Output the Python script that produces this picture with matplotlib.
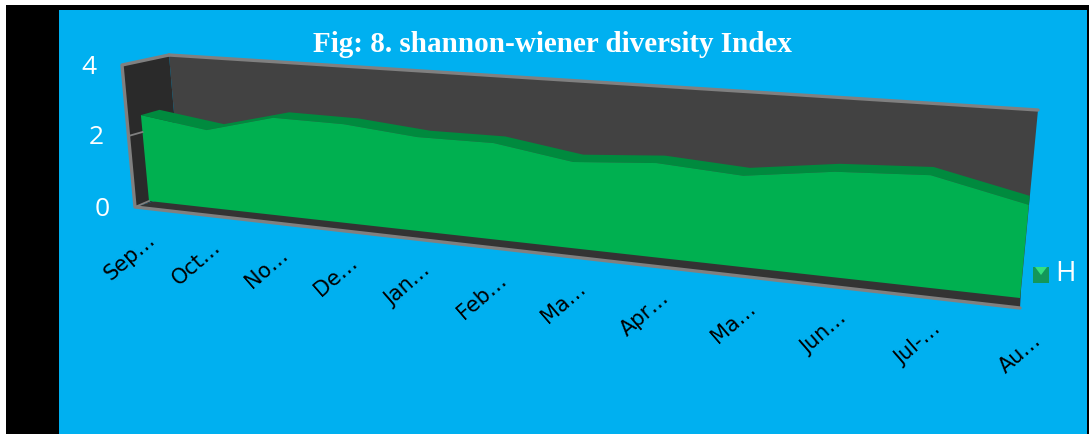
# -*- coding: utf-8 -*-
# 3D style area chart, H index by month, drawn on hand made perspective planes
from matplotlib import pyplot as plt
from matplotlib.transforms import Transform
from matplotlib.patches import Rectangle
import numpy as np

months = ['Sep…', 'Oct…', 'No…', 'De…', 'Jan…', 'Feb…', 'Ma…', 'Apr…', 'Ma…', 'Jun…', 'Jul-…', 'Au…']
H = [2.49, 2.20, 2.68, 2.64, 2.44, 2.43, 2.11, 2.24, 2.10, 2.35, 2.43, 1.96]
y_ticks = [0, 2, 4]
series_name = 'H'
title = 'Fig: 8. shannon-wiener diversity Index'

V_MAX = 4
PERSPECTIVE = 1.27


class Plane(Transform):
    # maps (month index, value) to picture pixels, corners are the plane at
    # value 0 and value V_MAX on the first and last month
    input_dims = 2
    output_dims = 2

    def __init__(self, left0, left1, right0, right1):
        super().__init__()
        self.c = np.array([left0, left1, right0, right1], dtype=float)

    def transform_non_affine(self, xy):
        xy = np.asarray(xy, dtype=float)
        t = xy[:, 0] / (len(months) - 1)
        t = t / (t + PERSPECTIVE * (1 - t))
        v = xy[:, 1] / V_MAX
        left = self.c[0] + np.outer(v, self.c[1] - self.c[0])
        right = self.c[2] + np.outer(v, self.c[3] - self.c[2])
        return left + (right - left) * t[:, None]


box_front = Plane((135, 207), (122, 65), (1020, 308), (1040, 120))
box_back = Plane((181, 193), (169, 55), (1021, 290), (1038, 110))
green_front = Plane((149, 201), (136, 63), (1020, 298), (1038, 108))
green_back = Plane((167, 192), (155, 60), (1021, 287), (1039, 101))

fig = plt.figure(figsize=(10.89, 4.34), dpi=100, facecolor='white')
ax = fig.add_axes([0, 0, 1, 1])
ax.set_axis_off()

ax.add_patch(Rectangle((6, 5), 1083, 429, color='black', lw=0))
ax.add_patch(Rectangle((59, 10), 1028, 424, color='#00b0f0', lw=0))

x = np.arange(len(months))
last = len(months) - 1


def pts(plane, i, v):
    return plane.transform(np.column_stack([i, v]))


ends = np.array([0, last])
bottom = np.zeros(2)
top = np.full(2, V_MAX)

# back wall, side wall, floor
wall = np.vstack([pts(box_back, ends, top), pts(box_back, ends[::-1], bottom)])
ax.fill(wall[:, 0], wall[:, 1], color='#424242', lw=0)
side = np.vstack([pts(box_front, [0, 0], [0, V_MAX]), pts(box_back, [0, 0], [V_MAX, 0])])
ax.fill(side[:, 0], side[:, 1], color='#2a2a2a', lw=0)
floor = np.vstack([pts(box_front, ends, bottom), pts(box_back, ends[::-1], bottom)])
ax.fill(floor[:, 0], floor[:, 1], color='#333333', lw=0)

# frame lines
edge = dict(color='#808080', lw=2.4, solid_capstyle='round')
line = pts(box_back, ends, top)
ax.plot(line[:, 0], line[:, 1], **edge)
line = np.vstack([pts(box_back, [0], [V_MAX]), pts(box_front, [0, 0], [V_MAX, 0]), pts(box_front, [last], [0])])
ax.plot(line[:, 0], line[:, 1], **edge)
for tick in y_ticks[:2]:
    line = np.vstack([pts(box_front, [0], [tick]), pts(green_front, [0], [tick])])
    ax.plot(line[:, 0], line[:, 1], color='#808080', lw=1.3)

# area, top band first then the front face
band = np.vstack([pts(green_front, x, H), pts(green_back, x, H)[::-1]])
ax.fill(band[:, 0], band[:, 1], color='#008a3e', lw=0)
ax.fill(np.r_[x, last, 0], np.r_[H, 0, 0], color='#00b050', lw=0,
        transform=green_front + ax.transData)

ax.text(552, 44, title, color='white', fontsize=21, fontweight='bold',
        family='Liberation Serif', ha='center', va='center')

for tick in y_ticks:
    px = pts(box_front, [0], [tick])[0]
    ax.text(px[0] - 25, px[1] + 2, str(tick), color='white', fontsize=19,
            family='Open Sans', ha='right', va='center')

for i, label in enumerate(months):
    px = pts(box_front, [i], [0])[0]
    ax.text(px[0] + 18, px[1] + 30, label, color='black', fontsize=15,
            family='DejaVu Sans', rotation=41, rotation_mode='anchor',
            ha='right', va='center')

# legend
ax.add_patch(Rectangle((1033, 267), 16, 16, color='#13975a', lw=0))
ax.fill([1035, 1047, 1041], [267, 267, 275], color='#35e07f', lw=0)
ax.text(1055, 274, series_name, color='white', fontsize=20, family='Open Sans',
        ha='left', va='center')

ax.set_xlim(0, 1089)
ax.set_ylim(434, 0)
fig.savefig('out.png', dpi=100)
